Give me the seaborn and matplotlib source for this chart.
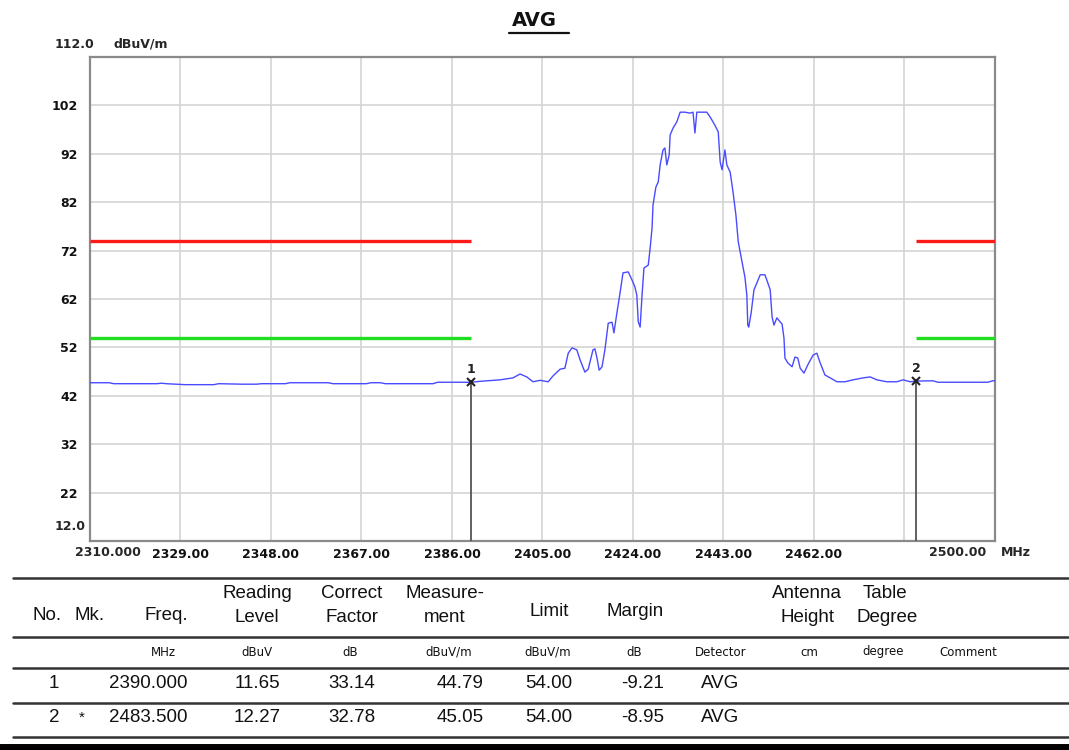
import numpy as np
import pandas as pd
import matplotlib
matplotlib.use("Agg")
import matplotlib.pyplot as plt
import seaborn as sns

# ---- data ----
freq_mhz = [2310, 2314, 2315, 2324, 2325, 2326, 2330, 2336, 2337, 2342, 2345, 2346,
            2351, 2352, 2360, 2361, 2368, 2369, 2371, 2372, 2382, 2383, 2390, 2392,
            2396.1, 2398.8, 2400.3, 2401.7, 2403, 2404.5, 2406.2, 2407.2, 2408.7,
            2409.7, 2410.4, 2411.2, 2412.2, 2412.9, 2413.9, 2414.6, 2415.6, 2416,
            2416.4, 2416.9, 2417.5, 2418.1, 2418.8, 2419.6, 2420, 2420.6, 2421.3,
            2421.9, 2423, 2423.8, 2424.4, 2424.8, 2425.1, 2425.5, 2425.9, 2426.3,
            2427.2, 2427.6, 2428, 2428.2, 2428.8, 2429.3, 2429.7, 2430.3, 2430.7,
            2431.1, 2431.6, 2431.8, 2432.4, 2433.2, 2433.9, 2434.9, 2436, 2436.6,
            2437, 2437.4, 2438.7, 2439.5, 2440.2, 2441.2, 2441.9, 2442.3, 2442.7,
            2443.3, 2443.7, 2444.4, 2445, 2445.6, 2446.1, 2446.9, 2447.5, 2447.9,
            2448.1, 2448.3, 2448.8, 2449.4, 2450, 2450.7, 2451.7, 2452.1, 2452.8,
            2453.2, 2453.6, 2454.2, 2455.3, 2455.7, 2455.9, 2456.5, 2457.4, 2458,
            2458.6, 2459.1, 2459.9, 2460.7, 2461.8, 2462.6, 2463.3, 2464.3, 2465.4,
            2466.8, 2468.5, 2470.2, 2472.3, 2473.8, 2475.2, 2477.3, 2479.4, 2480.7,
            2482.2, 2483.5, 2487, 2488, 2498.5, 2499.5, 2500]
level_dbuv = [44.7, 44.7, 44.5, 44.5, 44.6, 44.5, 44.3, 44.3, 44.5, 44.4, 44.4, 44.5,
              44.5, 44.7, 44.7, 44.5, 44.5, 44.7, 44.7, 44.5, 44.5, 44.8, 44.8, 45.0,
              45.3, 45.7, 46.5, 45.9, 44.9, 45.2, 44.9, 46.1, 47.5,
              47.7, 50.8, 51.9, 51.5, 49.4, 46.9, 47.5, 51.5, 51.7,
              50.0, 47.3, 48.0, 51.5, 57.0, 57.2, 55.0, 59.0, 63.4,
              67.4, 67.6, 65.9, 64.5, 62.8, 57.3, 56.2, 62.8, 68.4,
              69.0, 72.5, 76.7, 81.4, 85.1, 86.2, 89.7, 92.8, 93.2,
              89.7, 91.8, 95.9, 97.3, 98.6, 100.6, 100.6, 100.4, 100.6,
              96.3, 100.6, 100.6, 100.6, 99.6, 97.9, 96.5, 90.3, 88.7,
              92.8, 89.7, 88.2, 84.1, 79.4, 73.8, 69.6, 66.5, 62.8,
              56.6, 56.2, 59.1, 63.9, 65.3, 67.0, 67.0, 65.9, 63.9,
              58.3, 56.6, 58.1, 56.8, 53.9, 49.8, 48.8, 48.0, 50.0,
              49.8, 47.7, 46.7, 48.4, 50.4, 50.8, 48.8, 46.3, 45.7,
              44.9, 44.9, 45.3, 45.7, 45.9, 45.3, 44.9, 44.9, 45.3,
              44.9, 45.05, 45.1, 44.8, 44.8, 45.1, 45.1]

limit_avg = 54.0
limit_peak = 74.0
limit_x_left = [2310.0, 2390.0]
limit_x_right = [2483.5, 2500.0]

marker_no = ["1", "2"]
marker_freq = [2390.0, 2483.5]
marker_level = [44.79, 45.05]

x_ticks = [2310, 2329, 2348, 2367, 2386, 2405, 2424, 2443, 2462, 2481, 2500]
x_labels = ["", "2329.00", "2348.00", "2367.00", "2386.00", "2405.00",
            "2424.00", "2443.00", "2462.00", "", ""]
y_ticks = [22, 32, 42, 52, 62, 72, 82, 92, 102]

tbl_no = ["1", "2"]
tbl_mk = ["", "*"]
tbl_freq = ["2390.000", "2483.500"]
tbl_reading = ["11.65", "12.27"]
tbl_factor = ["33.14", "32.78"]
tbl_meas = ["44.79", "45.05"]
tbl_limit = ["54.00", "54.00"]
tbl_margin = ["-9.21", "-8.95"]
tbl_det = ["AVG", "AVG"]

# ---- figure ----
sns.set_theme(style="white")
plt.rcParams["font.family"] = ["DejaVu Sans"]

W, H = 1069, 750
fig = plt.figure(figsize=(W / 100, H / 100), dpi=100)


def fx(x):
    return x / W


def fy(y):
    return 1 - y / H


ax = fig.add_axes([fx(90), fy(541), fx(995) - fx(90), fy(57) - fy(541)])

df = pd.DataFrame({"freq": freq_mhz, "level": level_dbuv})
sns.lineplot(data=df, x="freq", y="level", ax=ax, color="#4a4aff", lw=1.0,
             zorder=4)

# limit lines
for xs in (limit_x_left, limit_x_right):
    ax.plot(xs, [limit_peak, limit_peak], color="#ff1a1a", lw=2.4, zorder=3,
            solid_capstyle="butt")
    ax.plot(xs, [limit_avg, limit_avg], color="#22dd22", lw=2.4, zorder=3,
            solid_capstyle="butt")

# markers
for n, f, v in zip(marker_no, marker_freq, marker_level):
    ax.plot([f, f], [12, v], color="#555555", lw=1.3, zorder=5)
    ax.plot(f, v, marker="x", color="#222222", ms=6, mew=1.5, zorder=6)
    ax.text(f, v + 1.3, n, ha="center", va="bottom", fontsize=9,
            fontweight="bold", color="#222222")

ax.set_xlim(2310, 2500)
ax.set_ylim(12, 112)
ax.set_xticks(x_ticks)
ax.set_xticklabels(x_labels, fontsize=9, fontweight="bold")
ax.set_yticks(y_ticks)
ax.set_yticklabels([str(t) for t in y_ticks], fontsize=9, fontweight="bold")
ax.tick_params(axis="both", length=0, colors="#111111")
ax.tick_params(axis="x", pad=5)
ax.tick_params(axis="y", pad=9)
ax.grid(True, color="#d4d4d4", lw=1.2)
ax.set_xlabel("")
ax.set_ylabel("")
for s in ax.spines.values():
    s.set_color("#8a8a8a")
    s.set_linewidth(1.6)

# axis extra labels
fig.text(fx(55), fy(44), "112.0", fontsize=9, fontweight="bold", va="center")
fig.text(fx(113), fy(44), "dBuV/m", fontsize=9, fontweight="bold", va="center")
fig.text(fx(55), fy(527), "12.0", fontsize=9, fontweight="bold", va="center")
fig.text(fx(75), fy(552), "2310.000", fontsize=9, fontweight="bold", va="center")
fig.text(fx(986), fy(552), "2500.00", fontsize=9, fontweight="bold", va="center",
         ha="right")
fig.text(fx(1001), fy(552), "MHz", fontsize=9, fontweight="bold", va="center")

# title
fig.text(0.5, fy(20), "AVG", ha="center", va="center", fontsize=14,
         fontweight="bold", color="#111111")
fig.add_artist(plt.Line2D([fx(509), fx(569)], [fy(33), fy(33)], color="#111111",
                          lw=1.6))

# ---- table ----
for y in (578, 637, 668, 703, 737):
    fig.add_artist(plt.Line2D([fx(13), 1], [fy(y), fy(y)], color="#333333", lw=1.8))
fig.add_artist(plt.Line2D([0, 1], [fy(746.5), fy(746.5)], color="black", lw=5))

tf = dict(family=["Liberation Sans", "DejaVu Sans"], fontsize=13.5,
          color="#111111", va="center")
uf = dict(fontsize=8.5, color="#111111", va="center", ha="center")


def t(x, y, s, ha="center", **kw):
    d = dict(tf)
    d.update(kw)
    fig.text(fx(x), fy(y), s, ha=ha, **d)


# header
t(47, 615, "No.")
t(90, 615, "Mk.")
t(166, 615, "Freq.")
t(257, 594, "Reading")
t(257, 617, "Level")
t(352, 594, "Correct")
t(352, 617, "Factor")
t(445, 594, "Measure-")
t(445, 617, "ment")
t(549, 611, "Limit")
t(635, 611, "Margin")
t(807, 594, "Antenna")
t(807, 617, "Height")
t(885, 594, "Table")
t(887, 617, "Degree")

# units
for x, s in [(163, "MHz"), (257, "dBuV"), (350, "dB"), (449, "dBuV/m"),
             (548, "dBuV/m"), (634, "dB"), (721, "Detector"), (809, "cm"),
             (883, "degree"), (968, "Comment")]:
    fig.text(fx(x), fy(652), s, **uf)

# rows
row_y = [684, 717]
for i, y in enumerate(row_y):
    t(54, y, tbl_no[i])
    t(82, y + 1, tbl_mk[i], fontsize=11)
    t(148, y, tbl_freq[i])
    t(257, y, tbl_reading[i])
    t(352, y, tbl_factor[i])
    t(460, y, tbl_meas[i])
    t(549, y, tbl_limit[i])
    t(643, y, tbl_margin[i])
    t(720, y, tbl_det[i])

fig.savefig("out.png", dpi=100)
